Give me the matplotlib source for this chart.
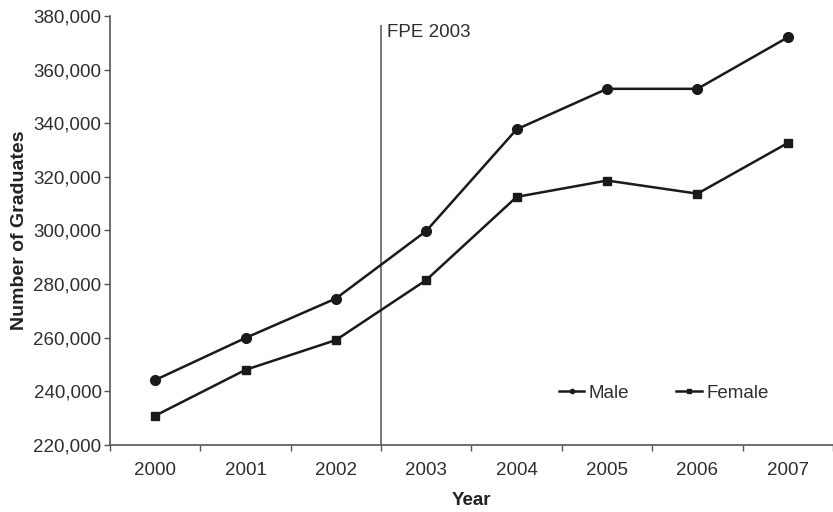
import matplotlib
matplotlib.use("Agg")
import matplotlib.pyplot as plt
from matplotlib.ticker import FuncFormatter
from matplotlib.lines import Line2D

years = ["2000", "2001", "2002", "2003", "2004", "2005", "2006", "2007"]
male = [244200, 259900, 274600, 299800, 337700, 352800, 352800, 372000]
female = [230900, 248000, 259100, 281500, 312500, 318600, 313700, 332600]
yticks = [220000, 240000, 260000, 280000, 300000, 320000, 340000, 360000, 380000]
fpe_label = "FPE 2003"

plt.rcParams['font.family'] = ['Liberation Sans', 'DejaVu Sans']
FS = 13.5
tc = '#2e2e2e'

fig = plt.figure(figsize=(8.33, 5.12), dpi=100)
ax = fig.add_axes([0.132, 0.131, 0.868, 0.838])

xs = list(range(len(years)))
lc = '#1a1a1a'
ax.plot(xs, male, color=lc, lw=1.8, marker='o', ms=7, mfc=lc, mec=lc, zorder=3)
ax.plot(xs, female, color=lc, lw=1.8, marker='s', ms=6, mfc=lc, mec=lc, zorder=3)

ax.set_xlim(-0.5, 7.5)
ax.set_ylim(220000, 380000)
ax.set_yticks(yticks)
ax.yaxis.set_major_formatter(FuncFormatter(lambda v, p: f"{int(v):,}"))
ax.set_xticks(xs)
ax.set_xticklabels(years)
ax.set_xticks([i + 0.5 for i in range(-1, len(years))], minor=True)
ax.tick_params(axis='x', which='major', length=0, pad=12, labelsize=FS, colors=tc)
ax.tick_params(axis='x', which='minor', length=4, width=1, color='#555555', direction='out')
ax.tick_params(axis='y', which='major', length=4, width=1, color='#555555', labelsize=FS,
               labelcolor=tc, pad=2)

for s in ['top', 'right']:
    ax.spines[s].set_visible(False)
for s in ['left', 'bottom']:
    ax.spines[s].set_color('#555555')
    ax.spines[s].set_linewidth(1.2)

ax.vlines(2.5, 220000, 376600, color='#555555', lw=1.1, zorder=2)
ax.text(2.57, 373800, fpe_label, fontsize=FS, color=tc, va='center', ha='left')

ax.set_xlabel("Year", fontsize=FS, fontweight='bold', labelpad=10, color='#222222')
ax.set_ylabel("Number of Graduates", fontsize=14, fontweight='bold', labelpad=4, color='#222222')

handles = [Line2D([0], [0], color=lc, lw=1.8, marker='o', ms=3),
           Line2D([0], [0], color=lc, lw=1.8, marker='s', ms=3)]
fig.legend(handles, ["Male", "Female"], ncol=2, frameon=False, fontsize=FS,
           loc='center left', bbox_to_anchor=(559 / 833, 1 - 393 / 512),
           bbox_transform=fig.transFigure, borderpad=0, borderaxespad=0,
           handlelength=1.35, handletextpad=0.25, columnspacing=2.5, labelcolor=tc)

fig.savefig("out.png", dpi=100)
